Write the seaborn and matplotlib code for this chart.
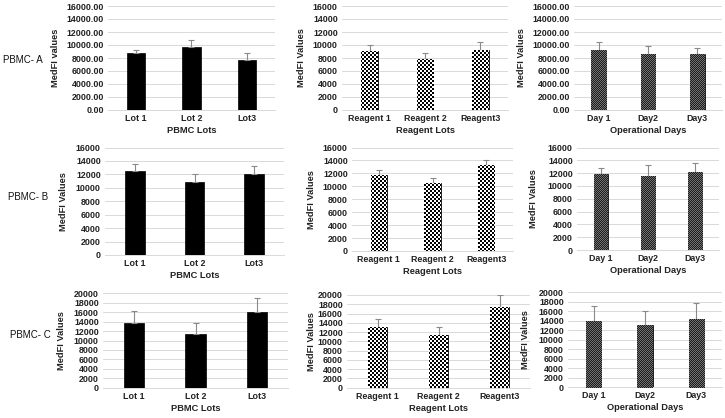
import numpy as np
import pandas as pd
import matplotlib
matplotlib.use("Agg")
import matplotlib.pyplot as plt
from matplotlib.colors import ListedColormap
from matplotlib.ticker import FuncFormatter, MultipleLocator
import seaborn as sns

# ---------------- data ----------------
row_labels = ["PBMC- A", "PBMC- B", "PBMC- C"]
lot_cats = ["Lot 1", "Lot 2", "Lot3"]
reagent_cats = ["Reagent 1", "Reagent 2", "Reagent3"]
day_cats = ["Day 1", "Day2", "Day3"]

a_lot_mean = [8700, 9650, 7750]
a_lot_err = [600, 1150, 1020]
a_reagent_mean = [9080, 7800, 9240]
a_reagent_err = [920, 970, 1260]
a_day_mean = [9200, 8650, 8550]
a_day_err = [1300, 1200, 950]

b_lot_mean = [12500, 10800, 12000]
b_lot_err = [1100, 1200, 1200]
b_reagent_mean = [11750, 10560, 13300]
b_reagent_err = [750, 680, 800]
b_day_mean = [11850, 11600, 12100]
b_day_err = [950, 1600, 1450]

c_lot_mean = [13640, 11300, 16050]
c_lot_err = [2610, 2340, 2900]
c_reagent_mean = [13000, 11450, 17400]
c_reagent_err = [1750, 1750, 2500]
c_day_mean = [14000, 13050, 14450]
c_day_err = [3200, 2950, 3300]

# ---------------- style ----------------
sns.set_theme(style="white")
plt.rcParams["font.family"] = ["Liberation Sans", "DejaVu Sans"]

W, H = 725, 418
fig = plt.figure(figsize=(W / 100, H / 100), dpi=100)

def add_ax(x0, x1, ytop, ybot):
    return fig.add_axes([x0 / W, 1 - ybot / H, (x1 - x0) / W, (ybot - ytop) / H])

panels = [
    (0, 0, lot_cats, a_lot_mean, a_lot_err, 16000, 2000, True, "MedFI values", "PBMC Lots", (108, 275, 6, 110), 57, "solid"),
    (0, 1, reagent_cats, a_reagent_mean, a_reagent_err, 16000, 2000, False, "MedFI Values", "Reagent Lots", (342, 508, 6, 110), 303, "check"),
    (0, 2, day_cats, a_day_mean, a_day_err, 16000, 2000, True, "MedFI Values", "Operational Days", (574, 722, 6, 110), 522, "fine"),
    (1, 0, lot_cats, b_lot_mean, b_lot_err, 16000, 2000, False, "MedFI Values", "PBMC Lots", (105, 284, 147.5, 255), 64, "solid"),
    (1, 1, reagent_cats, b_reagent_mean, b_reagent_err, 16000, 2000, False, "MedFI Values", "Reagent Lots", (352, 513, 147.5, 251), 313, "check"),
    (1, 2, day_cats, b_day_mean, b_day_err, 16000, 2000, False, "MedFI Values", "Operational Days", (577, 719, 147.5, 250), 535, "fine"),
    (2, 0, lot_cats, c_lot_mean, c_lot_err, 20000, 2000, False, "MedFI Values", "PBMC Lots", (103, 288, 293.3, 387.7), 62, "solid"),
    (2, 1, reagent_cats, c_reagent_mean, c_reagent_err, 20000, 2000, False, "MedFI Values", "Reagent Lots", (347, 530, 295, 387.7), 313, "check"),
    (2, 2, day_cats, c_day_mean, c_day_err, 20000, 2000, False, "MedFI Values", "Operational Days", (568, 722, 292.3, 387.3), 527, "fine"),
]

tick_fs = 6.4
lab_fs = 6.7

def fill_pattern(ax, patch, cell, c1, c2):
    # checkerboard placed unresampled on the output pixel grid, clipped to the bar
    x0, y0 = patch.get_x(), patch.get_y()
    w, h = patch.get_width(), patch.get_height()
    p0 = ax.transData.transform((x0, y0))
    p1 = ax.transData.transform((x0 + w, y0 + h))
    px0, px1 = int(np.floor(min(p0[0], p1[0]))), int(np.ceil(max(p0[0], p1[0])))
    py0, py1 = int(np.floor(min(p0[1], p1[1]))), int(np.ceil(max(p0[1], p1[1])))
    xs = np.arange(px0, px1)
    ys = np.arange(py0, py1)
    X, Y = np.meshgrid(xs, ys)
    arr = (((X // cell) + (Y // cell)) % 2).astype(float)
    im = fig.figimage(arr, xo=px0, yo=py0, origin="lower", cmap=ListedColormap([c1, c2]),
                      vmin=0, vmax=1, zorder=3)
    im.set_clip_path(patch)

for (r, c, cats, means, errs, ymax, step, fmt2, ylab, xlab, box, ylx, style) in panels:
    x0, x1, yt, yb = box
    ax = add_ax(x0, x1, yt, yb)
    df = pd.DataFrame({"cat": cats, "val": means})
    width = 0.33 if style == "solid" else 0.3
    sns.barplot(data=df, x="cat", y="val", color="black", width=width, ax=ax,
                saturation=1, edgecolor="black", linewidth=0.5, zorder=2)
    ax.set_xlim(-0.5, len(cats) - 0.5)
    ax.set_ylim(0, ymax)
    if style != "solid":
        for p in list(ax.patches):
            if style == "check":
                fill_pattern(ax, p, 2, "#000000", "#ffffff")
            else:
                fill_pattern(ax, p, 1, "#1c1c1c", "#727272")
    ax.errorbar(np.arange(len(cats)), means, yerr=[np.zeros(len(errs)), errs], fmt="none",
                ecolor="#8a8a8a", elinewidth=0.8, capsize=2.2, capthick=0.8, zorder=4)
    ax.yaxis.set_major_locator(MultipleLocator(step))
    if fmt2:
        ax.yaxis.set_major_formatter(FuncFormatter(lambda v, pos: f"{v:.2f}"))
    else:
        ax.yaxis.set_major_formatter(FuncFormatter(lambda v, pos: f"{int(v)}"))
    ax.grid(axis="y", color="#d9d9d9", linewidth=0.7, zorder=0)
    ax.set_axisbelow(True)
    for s in ["top", "right", "left"]:
        ax.spines[s].set_visible(False)
    ax.spines["bottom"].set_color("#d9d9d9")
    ax.spines["bottom"].set_linewidth(0.7)
    ax.tick_params(axis="both", length=0, labelsize=tick_fs, pad=3)
    for t in ax.get_xticklabels() + ax.get_yticklabels():
        t.set_fontweight("bold")
        t.set_color("#222222")
    ax.set_xlabel(xlab, fontsize=lab_fs, fontweight="bold", color="#222222", labelpad=2)
    ax.set_ylabel(ylab, fontsize=lab_fs, fontweight="bold", color="#222222")
    ax.yaxis.set_label_coords((ylx + 3.5 - x0) / (x1 - x0), 0.5)

# row labels
row_pos = [(3, 60), (8, 197), (10, 335)]
for lab, (px, py) in zip(row_labels, row_pos):
    fig.text(px / W, 1 - py / H, lab, fontsize=7, ha="left", va="center", color="#111111")

fig.savefig("out.png", dpi=100, facecolor="white")
